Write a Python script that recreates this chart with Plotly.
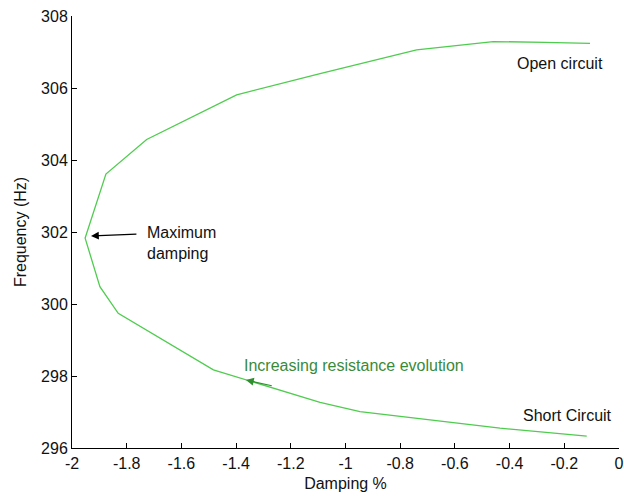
import plotly.graph_objects as go

# Upper branch (from maximum damping towards open circuit)
upper_damping = [-1.952, -1.876, -1.727, -1.398, -1.093, -0.740, -0.460, -0.271, -0.106]
upper_freq = [301.83, 303.61, 304.57, 305.81, 306.40, 307.06, 307.29, 307.27, 307.24]
# Lower branch (from maximum damping towards short circuit)
lower_damping = [-1.952, -1.898, -1.831, -1.483, -1.093, -0.947, -0.435, -0.118]
lower_freq = [301.83, 300.48, 299.74, 298.17, 297.27, 297.01, 296.55, 296.33]

x_ticks = [-2, -1.8, -1.6, -1.4, -1.2, -1, -0.8, -0.6, -0.4, -0.2, 0]
x_tick_text = ["-2", "-1.8", "-1.6", "-1.4", "-1.2", "-1", "-0.8", "-0.6", "-0.4", "-0.2", "0"]
y_ticks = [296, 298, 300, 302, 304, 306, 308]

curve_x = list(reversed(lower_damping)) + upper_damping[1:]
curve_y = list(reversed(lower_freq)) + upper_freq[1:]

FONT = "Liberation Sans, Arial, sans-serif"
FS = 16
LINE_GREEN = "#4fcc4f"
TEXT_GREEN = "#3a8a3a"

fig = go.Figure()
fig.add_trace(go.Scatter(x=curve_x, y=curve_y, mode="lines",
                         line=dict(color=LINE_GREEN, width=1.3),
                         showlegend=False, hoverinfo="skip"))

annotations = [
    dict(x=-0.214, y=306.69, text="Open circuit", showarrow=False,
         font=dict(size=FS, color="#111111", family=FONT)),
    dict(x=-0.188, y=296.90, text="Short Circuit", showarrow=False,
         font=dict(size=FS, color="#111111", family=FONT)),
    dict(x=-1.733, y=301.69, text="Maximum<br>damping", showarrow=False,
         xanchor="left", align="left",
         font=dict(size=FS, color="#111111", family=FONT)),
    dict(x=-0.969, y=298.28, text="Increasing resistance evolution", showarrow=False,
         font=dict(size=FS, color=TEXT_GREEN, family=FONT)),
    # black arrow to maximum damping
    dict(x=-1.9305, y=301.89, ax=-1.759, ay=301.94, axref="x", ayref="y",
         xref="x", yref="y", text="", showarrow=True, arrowhead=2,
         arrowsize=1.3, arrowwidth=1.2, arrowcolor="#000000"),
    # green arrow along the lower branch
    dict(x=-1.364, y=297.89, ax=-1.264, ay=297.72, axref="x", ayref="y",
         xref="x", yref="y", text="", showarrow=True, arrowhead=2,
         arrowsize=1.3, arrowwidth=1.2, arrowcolor="#2f8f2f"),
]

fig.update_layout(
    width=624, height=499,
    margin=dict(l=72, r=5, t=16, b=51),
    paper_bgcolor="white", plot_bgcolor="white",
    font=dict(family=FONT, size=FS, color="#111111"),
    annotations=annotations,
    xaxis=dict(range=[-2, 0], tickmode="array", tickvals=x_ticks, ticktext=x_tick_text,
               ticks="inside", ticklen=5, tickcolor="#000000", showline=True,
               linecolor="#000000", linewidth=1, mirror=False, showgrid=False,
               zeroline=False, automargin=False, ticklabeloverflow="allow",
               ticklabelstandoff=1,
               tickfont=dict(size=FS, family=FONT),
               title=dict(text="Damping %", standoff=6,
                          font=dict(size=FS, family=FONT))),
    yaxis=dict(range=[296, 308], tickmode="array", tickvals=y_ticks,
               ticks="inside", ticklen=5, tickcolor="#000000", showline=True,
               linecolor="#000000", linewidth=1, mirror=False, showgrid=False,
               zeroline=False, automargin=False, ticklabeloverflow="allow",
               tickfont=dict(size=FS, family=FONT),
               title=dict(text="Frequency (Hz)", standoff=10,
                          font=dict(size=FS, family=FONT))),
)

fig.write_html("out.html", config={"displayModeBar": False},
               post_script="document.body.style.margin='0';document.body.style.overflow='hidden';")
